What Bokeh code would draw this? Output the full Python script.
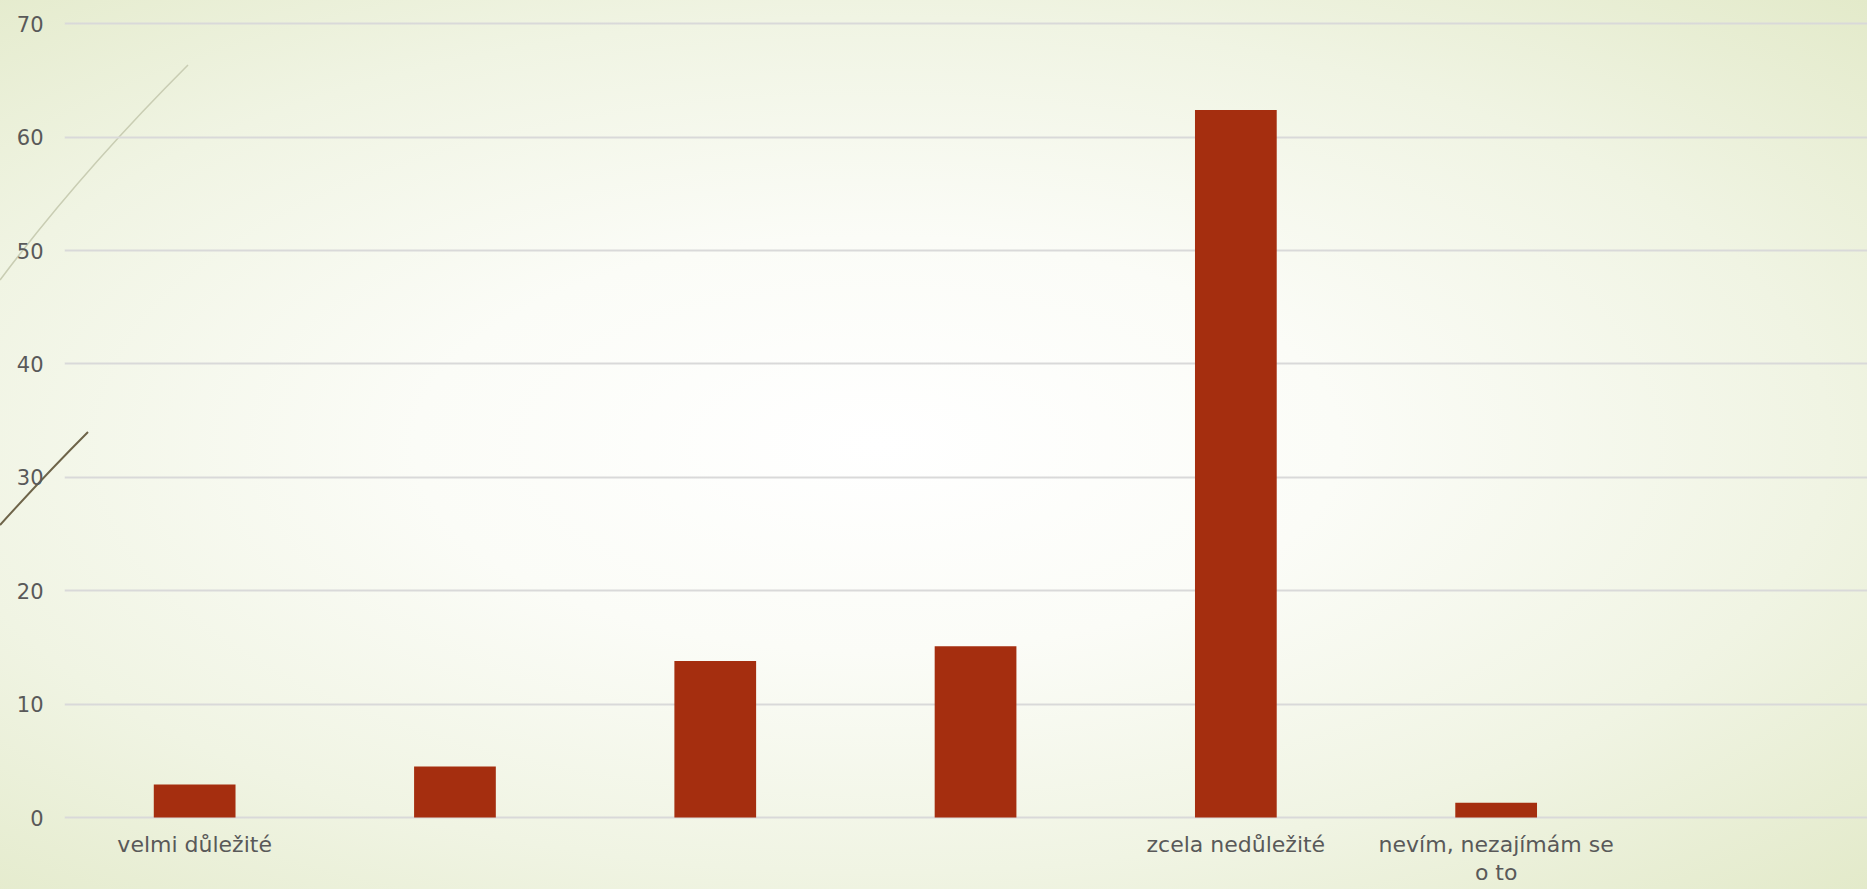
from bokeh.plotting import figure
from bokeh.models import Range1d, FixedTicker
from bokeh.embed import file_html
from bokeh.resources import INLINE

# --- data ---
categories = ["velmi důležité", "", "", "", "zcela nedůležité", "nevím, nezajímám se\no to"]
values = [2.9, 4.5, 13.8, 15.1, 62.4, 1.3]
y_ticks = [0, 10, 20, 30, 40, 50, 60, 70]

positions = list(range(1, len(categories) + 1))

W, H = 1867, 889
PX_PER_UNIT = 11.34
CAT_PX = 260.3
FRAME_L, FRAME_T, FRAME_B = 64, 18, 819
ZERO_Y = 817

y_start = -(FRAME_B - ZERO_Y) / PX_PER_UNIT
y_end = y_start + (FRAME_B - FRAME_T) / PX_PER_UNIT

p = figure(width=W, height=H, output_backend="svg", toolbar_location=None,
           x_range=Range1d(0.5, 0.5 + (W - FRAME_L) / CAT_PX),
           y_range=Range1d(y_start, y_end),
           min_border_left=FRAME_L, min_border_right=0, min_border_top=FRAME_T,
           min_border_bottom=H - FRAME_B)

deco = ("url(\"data:image/svg+xml;utf8,<svg xmlns='http://www.w3.org/2000/svg' width='1867' height='889'>"
        "<path d='M188,65 Q81,172 0,280' stroke='%23c9cdb3' stroke-width='1.6' fill='none'/>"
        "<path d='M88,432 Q48,472 0,525' stroke='%236e6449' stroke-width='2' fill='none'/>"
        "</svg>\")")
grad = ("radial-gradient(ellipse farthest-corner at 47% 50%, #ffffff 0%, #fbfcf7 33%, "
        "#f0f4e3 68%, #e3eaca 100%)")
p.styles = {"background-image": deco + ", " + grad, "background-repeat": "no-repeat"}

p.background_fill_color = None
p.border_fill_color = None
p.outline_line_color = None

p.vbar(x=positions, top=values, width=0.314, fill_color="#a52e0f", line_color=None)

font = "DejaVu Sans"
text_color = "#595959"

p.yaxis.ticker = FixedTicker(ticks=y_ticks)
p.yaxis.axis_line_color = None
p.yaxis.major_tick_line_color = None
p.yaxis.minor_tick_line_color = None
p.yaxis.major_label_text_font = font
p.yaxis.major_label_text_font_size = "21px"
p.yaxis.major_label_text_color = text_color
p.yaxis.major_label_standoff = 15

p.xaxis.ticker = FixedTicker(ticks=positions)
p.xaxis.major_label_overrides = {pos: lab for pos, lab in zip(positions, categories)}
p.xaxis.axis_line_color = None
p.xaxis.major_tick_line_color = None
p.xaxis.minor_tick_line_color = None
p.xaxis.major_label_text_font = font
p.xaxis.major_label_text_font_size = "22px"
p.xaxis.major_label_text_line_height = 1.12
p.xaxis.major_label_text_color = text_color
p.xaxis.major_label_standoff = 6

p.xgrid.grid_line_color = None
p.ygrid.grid_line_color = "#d9d9d9"
p.ygrid.grid_line_width = 2

open("out.html", "w").write(file_html(p, INLINE))
